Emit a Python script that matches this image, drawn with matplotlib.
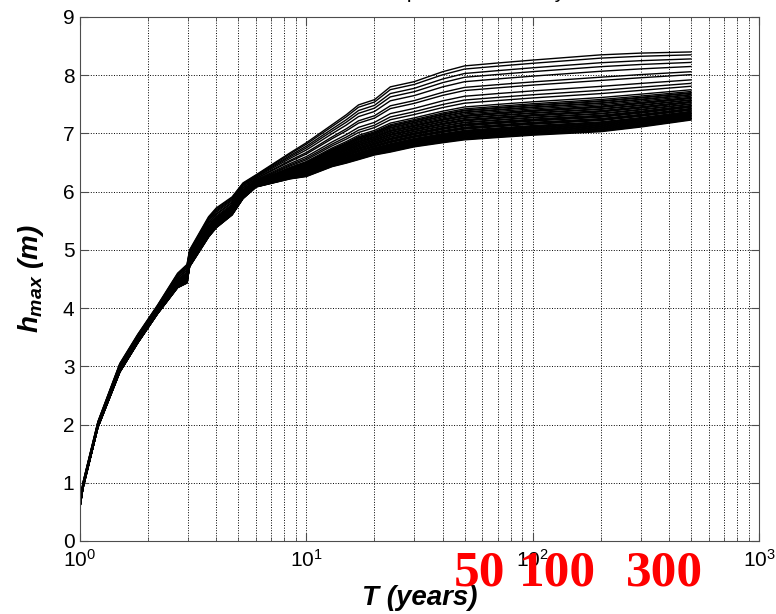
import numpy as np
import matplotlib
matplotlib.use('Agg')
import matplotlib.pyplot as plt
from matplotlib.ticker import LogLocator, NullFormatter

plt.rcParams['font.family'] = ['Liberation Sans', 'DejaVu Sans']
plt.rcParams['mathtext.fontset'] = 'custom'
plt.rcParams['mathtext.rm'] = 'Liberation Sans'
plt.rcParams['mathtext.it'] = 'Liberation Sans:italic:bold'
plt.rcParams['mathtext.bf'] = 'Liberation Sans:bold'

# return period (years) where the band of curves was read
T_pts = [1.0, 1.03, 1.2, 1.5, 1.8, 2.2, 2.7, 2.97, 3.05, 3.7, 4.0, 4.7, 5.25, 6.0,
         8.5, 10, 13, 15, 17, 20, 23.5, 30, 40, 50, 70, 100, 200, 300, 500]
# lower and upper edge of the band of h_max curves (m)
h_lo = [0.58, 0.90, 1.95, 2.90, 3.40, 3.90, 4.35, 4.43, 4.71, 5.22, 5.38, 5.60, 5.88, 6.08,
        6.22, 6.26, 6.43, 6.49, 6.55, 6.63, 6.68, 6.77, 6.84, 6.89, 6.93, 6.97, 7.03, 7.11, 7.23]
h_hi = [0.65, 1.00, 2.05, 3.05, 3.55, 4.05, 4.60, 4.75, 5.00, 5.57, 5.72, 5.91, 6.15, 6.29,
        6.67, 6.84, 7.15, 7.32, 7.49, 7.58, 7.80, 7.89, 8.06, 8.16, 8.21, 8.26, 8.35, 8.38, 8.40]
# value of every single curve at T = 500 years
h_end = [8.40, 8.35, 8.28, 8.22, 8.15, 8.06, 8.01, 7.92, 7.86, 7.81, 7.75,
         7.72, 7.70, 7.69, 7.67, 7.66, 7.64, 7.62, 7.61, 7.60, 7.58, 7.57, 7.55,
         7.54, 7.53, 7.51, 7.50, 7.48, 7.47, 7.46, 7.45, 7.43, 7.42, 7.41, 7.40,
         7.38, 7.37, 7.36, 7.35, 7.34, 7.33, 7.32, 7.31, 7.30, 7.29, 7.28, 7.27,
         7.26, 7.25, 7.24, 7.23]
marks = ['50', '100', '300']

T = np.array(T_pts)
lo = np.array(h_lo)
hi = np.array(h_hi)

fig = plt.figure(figsize=(7.76, 6.14), dpi=100)
ax = fig.add_axes([80/776, 73/614, 679/776, 524/614])

for he in h_end:
    w = (he - h_lo[-1]) / (h_hi[-1] - h_lo[-1])
    ax.plot(T, lo + w*(hi - lo), '-', color='k', lw=1.0)

ax.set_xscale('log')
ax.set_xlim(1, 1000)
ax.set_ylim(0, 9)
ax.set_yticks(range(10))
ax.xaxis.set_minor_locator(LogLocator(base=10, subs=np.arange(2, 10)))
ax.xaxis.set_minor_formatter(NullFormatter())
ax.grid(True, which='major', linestyle=':', color='k', lw=0.7)
ax.grid(True, which='minor', axis='x', linestyle=':', color='k', lw=0.7)
ax.tick_params(which='both', direction='in', top=True, right=True, labelsize=15, color='0.3')
ax.tick_params(which='major', length=6)
ax.tick_params(which='minor', length=3)
ax.tick_params(axis='x', pad=6)
ax.tick_params(axis='y', pad=4)
for s in ax.spines.values():
    s.set_color('0.3')

ax.set_xlabel('T (years)', fontsize=20, fontweight='bold', style='italic', labelpad=10)
ax.set_ylabel(r'$h_{max}$ (m)', fontsize=20, fontweight='bold', style='italic', labelpad=12)
ax.set_title('Hazard curves at a point in the study area', fontsize=15, pad=13.5)

for m, xp in zip(marks, [480, 557, 664]):
    fig.text(xp/776, 1 - 574/614, m, color='red', fontsize=37, fontweight='bold',
             family='Liberation Serif', ha='center', va='center', zorder=10)

fig.savefig('out.png', dpi=100)
